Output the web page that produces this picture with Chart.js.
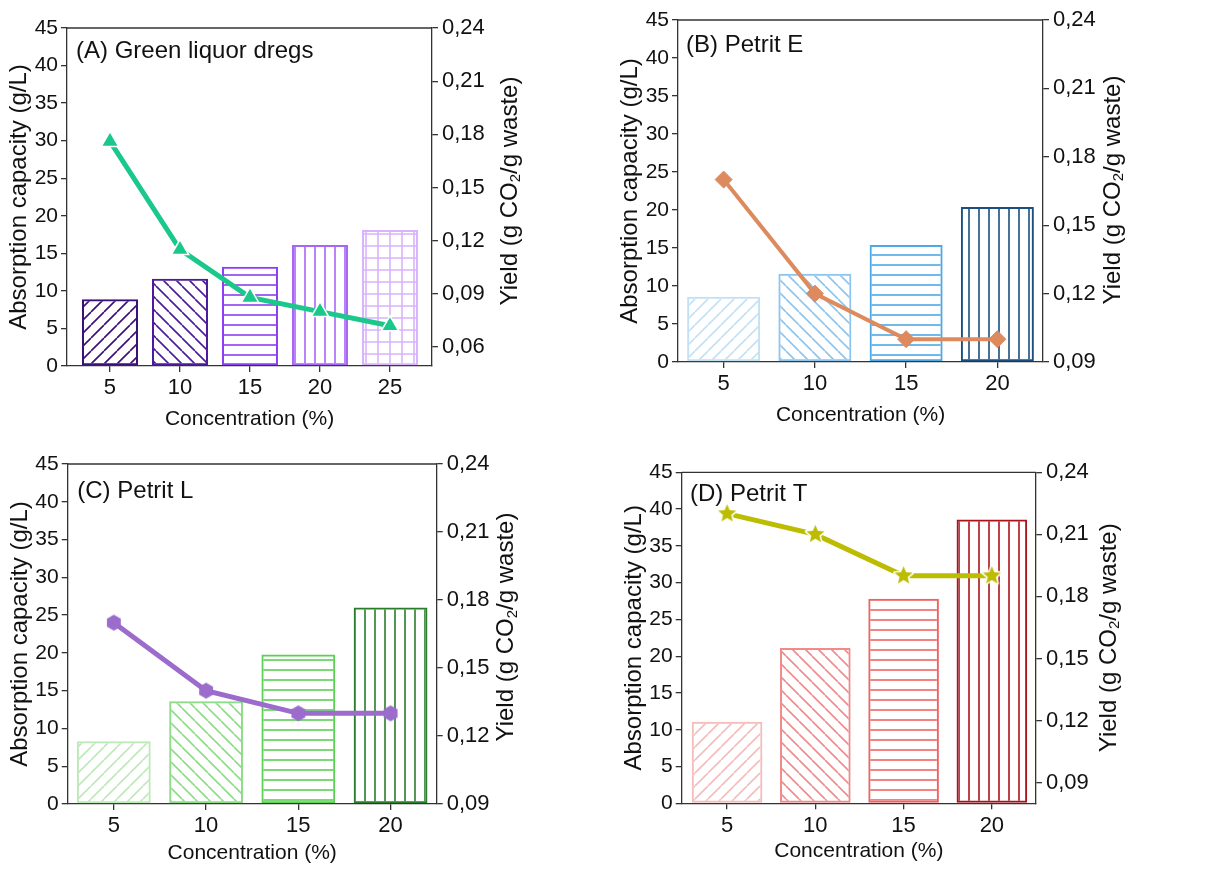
<!DOCTYPE html>
<html>
<head>
<meta charset="utf-8">
<script src="https://cdn.jsdelivr.net/npm/chart.js@4.4.1/dist/chart.umd.min.js"></script>
<style>
  html, body { margin: 0; padding: 0; background: #fff; }
  #wrap { position: relative; width: 1208px; height: 870px; }
  .panel { position: absolute; width: 604px; height: 435px; }
</style>
</head>
<body>
<div id="wrap">
  <div class="panel" style="left:0;top:0"><canvas id="chartA"></canvas></div>
  <div class="panel" style="left:604px;top:0"><canvas id="chartB"></canvas></div>
  <div class="panel" style="left:0;top:435px"><canvas id="chartC"></canvas></div>
  <div class="panel" style="left:604px;top:435px"><canvas id="chartD"></canvas></div>
</div>
<script>
// ---------- data ----------
const concA = [5, 10, 15, 20, 25];
const concBCD = [5, 10, 15, 20];

const absorptionA = [8.9, 11.6, 13.2, 16.1, 18.1];
const yieldA = [0.176, 0.115, 0.088, 0.080, 0.072];

const absorptionB = [8.6, 11.6, 15.4, 20.4];
const yieldB = [0.17, 0.12, 0.10, 0.10];

const absorptionC = [8.3, 13.6, 19.8, 26.0];
const yieldC = [0.17, 0.14, 0.13, 0.13];

const absorptionD = [11.1, 21.1, 27.8, 38.6];
const yieldD = [0.22, 0.21, 0.19, 0.19];

const absorptionTicks = [0, 5, 10, 15, 20, 25, 30, 35, 40, 45];
const yieldTicksA = [0.06, 0.09, 0.12, 0.15, 0.18, 0.21, 0.24];
const yieldTicks = [0.09, 0.12, 0.15, 0.18, 0.21, 0.24];

const FONT = '"Liberation Sans", Arial, sans-serif';
const AXIS = '#333333';
const TICK_SIZE = 21;
const TITLE_SIZE = 24;
Chart.defaults.font.family = FONT;
Chart.defaults.color = '#111';

// ---------- helpers ----------
function hatch(ctx, kind, color, size) {
    const c = document.createElement('canvas');
    c.width = size; c.height = size;
    const g = c.getContext('2d');
    g.strokeStyle = color;
    g.lineWidth = 1.6;
    g.beginPath();
    if (kind === 'fwd') {
        for (let k = -1; k <= 1; k++) { g.moveTo(k * size, size); g.lineTo(k * size + size, 0); }
    } else if (kind === 'back') {
        for (let k = -1; k <= 1; k++) { g.moveTo(k * size, 0); g.lineTo(k * size + size, size); }
    } else if (kind === 'horiz') {
        g.moveTo(0, size / 2); g.lineTo(size, size / 2);
    } else if (kind === 'vert') {
        g.moveTo(size / 2, 0); g.lineTo(size / 2, size);
    } else if (kind === 'grid') {
        g.moveTo(0, size / 2); g.lineTo(size, size / 2);
        g.moveTo(size / 2, 0); g.lineTo(size / 2, size);
    }
    g.stroke();
    return ctx.createPattern(c, 'repeat');
}

function patternSize(kind) {
    if (kind === 'fwd' || kind === 'back') return 13;
    if (kind === 'grid') return 12;
    return 10;
}

function hexagonImage(color, r) {
    const s = Math.ceil(2 * r + 4);
    const c = document.createElement('canvas');
    c.width = s; c.height = s;
    const g = c.getContext('2d');
    g.beginPath();
    for (let i = 0; i < 6; i++) {
        const a = -Math.PI / 2 + i * Math.PI / 3;
        const x = s / 2 + r * Math.cos(a), y = s / 2 + r * Math.sin(a);
        i ? g.lineTo(x, y) : g.moveTo(x, y);
    }
    g.closePath();
    g.fillStyle = color;
    g.fill();
    return c;
}

function starImage(color, r) {
    const s = Math.ceil(2 * r + 8);
    const c = document.createElement('canvas');
    c.width = s; c.height = s;
    const g = c.getContext('2d');
    g.beginPath();
    for (let i = 0; i < 10; i++) {
        const a = -Math.PI / 2 + i * Math.PI / 5;
        const rr = i % 2 ? r * 0.45 : r;
        const x = s / 2 + rr * Math.cos(a), y = s / 2 + rr * Math.sin(a);
        i ? g.lineTo(x, y) : g.moveTo(x, y);
    }
    g.closePath();
    g.lineJoin = 'round';
    g.strokeStyle = '#fff';
    g.lineWidth = 3;
    g.stroke();
    g.fillStyle = color;
    g.fill();
    return c;
}

const fmtComma = v => v.toFixed(2).replace('.', ',');

// top frame, panel label and right axis title (reads bottom-to-top, with subscript)
const panelDecor = {
    id: 'panelDecor',
    afterDraw(chart, args, opts) {
        const { ctx, chartArea: a } = chart;
        ctx.save();
        ctx.strokeStyle = AXIS;
        ctx.lineWidth = 1.3;
        ctx.beginPath();
        ctx.moveTo(a.left, a.top);
        ctx.lineTo(a.right, a.top);
        ctx.stroke();

        ctx.fillStyle = '#111';
        ctx.font = TITLE_SIZE + 'px ' + FONT;
        ctx.textAlign = 'left';
        ctx.textBaseline = 'alphabetic';
        ctx.fillText(opts.label, a.left + opts.labelDx, a.top + opts.labelDy);

        const parts = [['Yield (g CO', TITLE_SIZE, 0], ['2', 15, 6], ['/g waste)', TITLE_SIZE, 0]];
        let total = 0;
        parts.forEach(p => { ctx.font = p[1] + 'px ' + FONT; p.push(ctx.measureText(p[0]).width); total += p[3]; });
        ctx.translate(a.right + opts.rightTitleDx, (a.top + a.bottom) / 2 + opts.rightTitleDy);
        ctx.rotate(-Math.PI / 2);
        ctx.textBaseline = 'middle';
        let x = -total / 2;
        parts.forEach(p => {
            ctx.font = p[1] + 'px ' + FONT;
            ctx.fillText(p[0], x, p[2]);
            x += p[3];
        });
        ctx.restore();
    }
};

function makePanel(id, spec) {
    const canvas = document.getElementById(id);
    const ctx = canvas.getContext('2d');
    const W = 604, H = 435, WL = 62, WR = 100, HB = 66;

    const kinds = spec.kinds;
    const bars = spec.conc.map((c, i) => ({ x: c, y: spec.absorption[i] }));
    const line = spec.conc.map((c, i) => ({ x: c, y: spec.yield[i] }));

    return new Chart(ctx, {
        type: 'bar',
        data: {
            datasets: [
                {
                    type: 'line',
                    label: 'Yield',
                    data: line,
                    yAxisID: 'y1',
                    order: 0,
                    borderColor: spec.lineColor,
                    borderWidth: spec.lineWidth,
                    tension: 0,
                    pointStyle: spec.pointStyle,
                    pointRadius: spec.pointRadius,
                    pointBackgroundColor: spec.lineColor,
                    pointBorderColor: spec.pointBorder,
                    pointBorderWidth: spec.pointBorderWidth
                },
                {
                    type: 'bar',
                    label: 'Absorption capacity',
                    data: bars,
                    yAxisID: 'y',
                    order: 1,
                    backgroundColor: spec.barColors.map((col, i) => hatch(ctx, kinds[i], col, patternSize(kinds[i]))),
                    borderColor: spec.barColors,
                    borderWidth: 2,
                    borderSkipped: false,
                    barPercentage: 1,
                    categoryPercentage: 0.8
                }
            ]
        },
        options: {
            responsive: true,
            maintainAspectRatio: false,
            animation: false,
            layout: {
                padding: {
                    left: spec.area.left - WL,
                    right: W - spec.area.right - WR,
                    top: spec.area.top,
                    bottom: H - spec.area.bottom - HB
                }
            },
            plugins: {
                legend: { display: false },
                tooltip: { enabled: false },
                panelDecor: {
                    label: spec.label,
                    labelDx: spec.labelDx,
                    labelDy: spec.labelDy,
                    rightTitleDx: spec.rightTitleDx,
                    rightTitleDy: spec.rightTitleDy
                }
            },
            scales: {
                x: {
                    type: 'linear',
                    min: spec.xMin,
                    max: spec.xMax,
                    offset: false,
                    afterBuildTicks: s => { s.ticks = spec.conc.map(v => ({ value: v })); },
                    afterFit: s => { s.height = HB; },
                    grid: { offset: false, drawOnChartArea: false, drawTicks: true, tickLength: 6, color: AXIS, lineWidth: 1.3 },
                    border: { display: true, color: AXIS, width: 1.3 },
                    ticks: { font: { size: TICK_SIZE + 1 }, color: '#111', padding: 3, maxRotation: 0 },
                    title: {
                        display: true,
                        text: 'Concentration (%)',
                        font: { size: 21 },
                        color: '#111',
                        padding: { top: 0, bottom: HB - spec.xTitleGap - 12.6 }
                    }
                },
                y: {
                    position: 'left',
                    min: 0,
                    max: 45,
                    afterBuildTicks: s => { s.ticks = absorptionTicks.map(v => ({ value: v })); },
                    afterFit: s => { s.width = WL; },
                    grid: { drawOnChartArea: false, drawTicks: true, tickLength: 6, color: AXIS, lineWidth: 1.3 },
                    border: { display: true, color: AXIS, width: 1.3 },
                    ticks: { font: { size: TICK_SIZE }, color: '#111', padding: 3 },
                    title: {
                        display: true,
                        text: 'Absorption capacity (g/L)',
                        font: { size: TITLE_SIZE },
                        color: '#111',
                        padding: { top: 0, bottom: 0 }
                    }
                },
                y1: {
                    position: 'right',
                    min: spec.yieldMin,
                    max: 0.24,
                    afterBuildTicks: s => { s.ticks = spec.yieldTicks.map(v => ({ value: v })); },
                    afterFit: s => { s.width = WR; },
                    grid: { drawOnChartArea: false, drawTicks: true, tickLength: 6, color: AXIS, lineWidth: 1.3 },
                    border: { display: true, color: AXIS, width: 1.3 },
                    ticks: { font: { size: TICK_SIZE + 1 }, color: '#111', padding: 4, callback: v => fmtComma(v) }
                }
            }
        },
        plugins: [panelDecor]
    });
}

// ---------- panels ----------
makePanel('chartA', {
    label: '(A) Green liquor dregs', labelDx: 9, labelDy: 30,
    conc: concA, absorption: absorptionA, yield: yieldA,
    xMin: 1.93, xMax: 28, yieldMin: 0.0493, yieldTicks: yieldTicksA,
    area: { left: 67, right: 432, top: 28, bottom: 366 },
    xTitleGap: 53, rightTitleDx: 78, rightTitleDy: -6,
    kinds: ['fwd', 'back', 'horiz', 'vert', 'grid'],
    barColors: ['#3b0f78', '#4c1a9a', '#8d3ff2', '#a866f7', '#d9b3fc'],
    lineColor: '#1bc88b', lineWidth: 5,
    pointStyle: 'triangle', pointRadius: 10, pointBorder: '#fff', pointBorderWidth: 1.5
});

makePanel('chartB', {
    label: '(B) Petrit E', labelDx: 8, labelDy: 32,
    conc: concBCD, absorption: absorptionB, yield: yieldB,
    xMin: 2.5, xMax: 22.5, yieldMin: 0.09, yieldTicks: yieldTicks,
    area: { left: 74, right: 439, top: 20, bottom: 362 },
    xTitleGap: 53, rightTitleDx: 70, rightTitleDy: -1,
    kinds: ['fwd', 'back', 'horiz', 'vert'],
    barColors: ['#c3e1f5', '#8ec5ee', '#4ea8e6', '#1c4f7f'],
    lineColor: '#dc8a5e', lineWidth: 4,
    pointStyle: 'rectRot', pointRadius: 8.5, pointBorder: '#dc8a5e', pointBorderWidth: 1
});

makePanel('chartC', {
    label: '(C) Petrit L', labelDx: 9.6, labelDy: 34,
    conc: concBCD, absorption: absorptionC, yield: yieldC,
    xMin: 2.5, xMax: 22.5, yieldMin: 0.09, yieldTicks: yieldTicks,
    area: { left: 67.7, right: 436.7, top: 29, bottom: 369 },
    xTitleGap: 49, rightTitleDx: 70, rightTitleDy: -7,
    kinds: ['fwd', 'back', 'horiz', 'vert'],
    barColors: ['#bdeab8', '#8fdc88', '#5ccf55', '#2a7d2a'],
    lineColor: '#9b6ccb', lineWidth: 5,
    pointStyle: hexagonImage('#9b6ccb', 8), pointRadius: 8, pointBorder: '#9b6ccb', pointBorderWidth: 0
});

makePanel('chartD', {
    label: '(D) Petrit T', labelDx: 8.3, labelDy: 29,
    conc: concBCD, absorption: absorptionD, yield: yieldD,
    xMin: 2.43, xMax: 22.5, yieldMin: 0.08, yieldTicks: yieldTicks,
    area: { left: 77.7, right: 432, top: 37.3, bottom: 368.3 },
    xTitleGap: 48, rightTitleDx: 73, rightTitleDy: 0,
    kinds: ['fwd', 'back', 'horiz', 'vert'],
    barColors: ['#f5bcbc', '#f08b8b', '#ee6464', '#a8141c'],
    lineColor: '#bcbc00', lineWidth: 5,
    pointStyle: starImage('#bcbc00', 9.5), pointRadius: 9, pointBorder: '#bcbc00', pointBorderWidth: 0
});
</script>
</body>
</html>
